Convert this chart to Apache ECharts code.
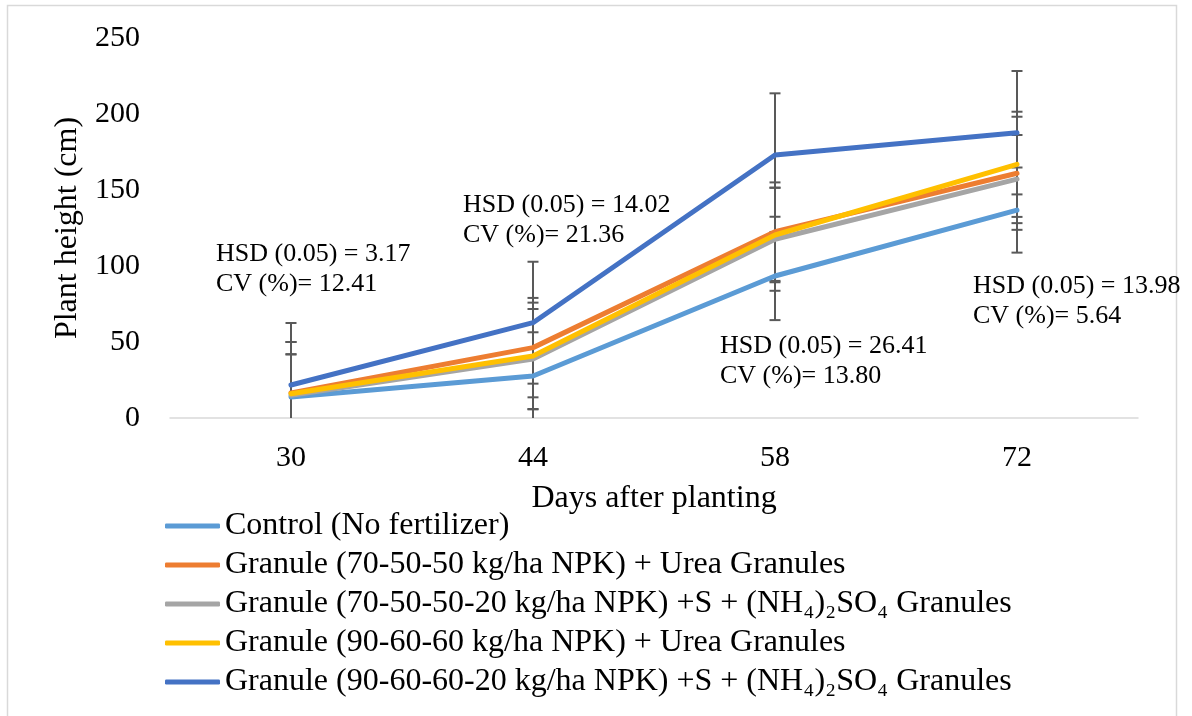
<!DOCTYPE html>
<html>
<head>
<meta charset="utf-8">
<title>Plant height</title>
<script src="https://cdn.jsdelivr.net/npm/echarts@6/dist/echarts.min.js"></script>
<style>
  html, body { margin: 0; padding: 0; background: #ffffff; }
  #chart { width: 1192px; height: 716px; }
</style>
</head>
<body>
<div id="chart"></div>
<script>
// Days after planting
const categories = ['30', '44', '58', '72'];

// Mean plant height (cm) per treatment
const control      = [13.8, 27.6, 93.4, 136.8];
const npk705050    = [16.4, 46.3, 122.6, 161.0];
const npk70505020  = [15.0, 38.8, 117.6, 157.2];
const npk906060    = [16.0, 40.8, 120.4, 166.9];
const npk90606020  = [21.7, 62.7, 173.0, 187.7];

// Error bar half-widths (cm) per treatment
const errControl     = [28.0, 28.8, 29.0, 28.0];
const err705050      = [33.6, 32.7, 32.4, 37.2];
const err70505020    = [27.0, 32.9, 33.9, 29.0];
const err906060      = [34.0, 35.1, 31.1, 34.6];
const err90606020    = [40.8, 40.1, 40.6, 40.6];

const seriesNames = [
  'Control (No fertilizer)',
  'Granule (70-50-50 kg/ha NPK) + Urea Granules',
  'Granule (70-50-50-20 kg/ha NPK) +S + (NH\u2084)\u2082SO\u2084 Granules',
  'Granule (90-60-60 kg/ha NPK) + Urea Granules',
  'Granule (90-60-60-20 kg/ha NPK) +S + (NH\u2084)\u2082SO\u2084 Granules'
];
const seriesValues = [control, npk705050, npk70505020, npk906060, npk90606020];
const seriesErrors = [errControl, err705050, err70505020, err906060, err90606020];
const seriesColors = ['#5B9BD5', '#ED7D31', '#A5A5A5', '#FFC000', '#4472C4'];

// Statistics printed beside each sampling date
const hsdLabels = ['HSD (0.05) = 3.17', 'HSD (0.05) = 14.02', 'HSD (0.05) = 26.41', 'HSD (0.05) = 13.98'];
const cvLabels  = ['CV (%)= 12.41', 'CV (%)= 21.36', 'CV (%)= 13.80', 'CV (%)= 5.64'];

const FONT = '"Liberation Serif", "Times New Roman", serif';

// [categoryIndex, low, high] for every error bar
const errorData = [];
seriesValues.forEach((vals, s) => {
  vals.forEach((v, i) => {
    const e = seriesErrors[s][i];
    errorData.push([i, v - e, v + e]);
  });
});

function renderErrorBar(params, api) {
  const lo = api.coord([api.value(0), api.value(1)]);
  const hi = api.coord([api.value(0), api.value(2)]);
  const half = 5.5;
  const style = { stroke: '#595959', lineWidth: 2 };
  return {
    type: 'group',
    children: [
      { type: 'line', shape: { x1: hi[0], y1: hi[1], x2: lo[0], y2: lo[1] }, style },
      { type: 'line', shape: { x1: hi[0] - half, y1: hi[1], x2: hi[0] + half, y2: hi[1] }, style },
      { type: 'line', shape: { x1: lo[0] - half, y1: lo[1], x2: lo[0] + half, y2: lo[1] }, style }
    ]
  };
}

const annotationPos = [[216, 239], [463, 190], [720, 331], [973, 271]];

const chart = echarts.init(document.getElementById('chart'), null, { renderer: 'canvas' });

const option = {
  backgroundColor: '#ffffff',
  animation: false,
  textStyle: { fontFamily: FONT },
  grid: { left: 170, right: 54, top: 38, bottom: 298, containLabel: false },
  xAxis: {
    type: 'category',
    data: categories,
    boundaryGap: true,
    name: 'Days after planting',
    nameLocation: 'middle',
    nameGap: 65,
    nameTextStyle: { fontFamily: FONT, fontSize: 32, color: '#000000' },
    axisLine: { show: true, lineStyle: { color: '#D9D9D9', width: 1.5 } },
    axisTick: { show: false },
    axisLabel: { fontFamily: FONT, fontSize: 30, color: '#000000', margin: 25 },
    splitLine: { show: false }
  },
  yAxis: {
    type: 'value',
    min: 0,
    max: 250,
    interval: 50,
    name: 'Plant height (cm)',
    nameLocation: 'middle',
    nameGap: 86,
    nameTextStyle: { fontFamily: FONT, fontSize: 32, color: '#000000' },
    axisLine: { show: false },
    axisTick: { show: false },
    axisLabel: { fontFamily: FONT, fontSize: 30, color: '#000000', margin: 30 },
    splitLine: { show: false }
  },
  legend: {
    orient: 'vertical',
    left: 160,
    top: 505,
    itemWidth: 55,
    itemHeight: 5,
    itemGap: 7,
    icon: 'roundRect',
    data: seriesNames,
    textStyle: { fontFamily: FONT, fontSize: 32, color: '#000000', lineHeight: 32 }
  },
  series: [
    {
      type: 'custom',
      renderItem: renderErrorBar,
      data: errorData,
      clip: true,
      z: 1,
      silent: true,
      encode: { x: 0, y: [1, 2] }
    }
  ].concat(seriesValues.map((vals, s) => ({
    name: seriesNames[s],
    type: 'line',
    data: vals,
    symbol: 'none',
    z: 3 + s,
    color: seriesColors[s],
    lineStyle: { color: seriesColors[s], width: 5, cap: 'round', join: 'round' }
  }))),
  graphic: [
    {
      type: 'rect',
      silent: true,
      shape: { x: 7.5, y: 5.5, width: 1169, height: 720 },
      style: { fill: 'none', stroke: '#D9D9D9', lineWidth: 1.5 }
    }
  ].concat(annotationPos.map((p, i) => ({
    type: 'text',
    silent: true,
    x: p[0],
    y: p[1],
    z: 10,
    style: {
      text: hsdLabels[i] + '\n' + cvLabels[i],
      font: '26px ' + FONT,
      lineHeight: 30,
      fill: '#000000'
    }
  })))
};

chart.setOption(option);
</script>
</body>
</html>
